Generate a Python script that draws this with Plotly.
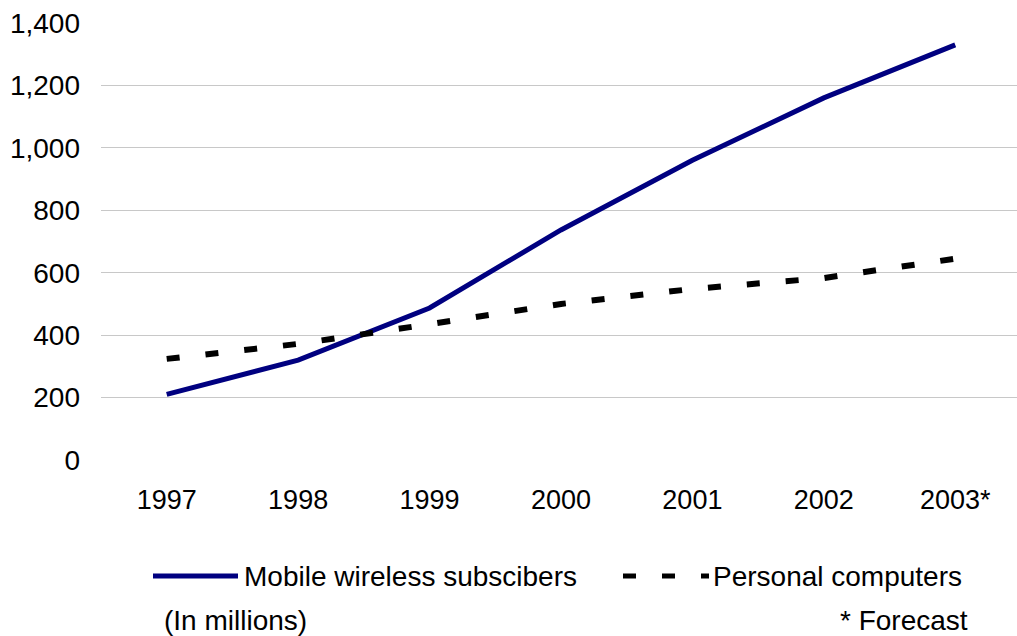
import plotly.graph_objects as go

# Yearly figures, in millions
years = ["1997", "1998", "1999", "2000", "2001", "2002", "2003*"]
mobile_subscribers = [210, 320, 487, 737, 960, 1160, 1330]
personal_computers = [324, 372, 435, 500, 548, 583, 645]

y_ticks = [0, 200, 400, 600, 800, 1000, 1200, 1400]

FONT = "Liberation Sans, Arial, sans-serif"
NAVY = "#000080"

# Plot area in pixels (figure is 1017 x 636)
W, H = 1017, 636
L, R, T, B = 101, 0, 23, 176
pw, ph = W - L - R, H - T - B


def px_x(px):
    return (px - L) / pw


def px_y(py):
    return (H - B - py) / ph


fig = go.Figure()

fig.add_trace(go.Scatter(
    x=years, y=mobile_subscribers, mode="lines",
    name="Mobile wireless subscibers",
    line=dict(color=NAVY, width=5),
))
fig.add_trace(go.Scatter(
    x=years, y=personal_computers, mode="lines",
    name="Personal computers",
    line=dict(color="black", width=6, dash="13px,26px"),
))

# Legend drawn below the axis
legend_y = px_y(576)
fig.add_shape(type="line", xref="paper", yref="paper",
              x0=px_x(153), x1=px_x(238), y0=legend_y, y1=legend_y,
              line=dict(color=NAVY, width=5))
fig.add_shape(type="line", xref="paper", yref="paper",
              x0=px_x(623), x1=px_x(709), y0=legend_y, y1=legend_y,
              line=dict(color="black", width=5, dash="13px,26px"))

annotations = [
    dict(text="Mobile wireless subscibers", x=px_x(242), y=legend_y,
         xanchor="left", yanchor="middle"),
    dict(text="Personal computers", x=px_x(711), y=legend_y,
         xanchor="left", yanchor="middle"),
    dict(text="(In millions)", x=px_x(162), y=px_y(620),
         xanchor="left", yanchor="middle"),
    dict(text="* Forecast", x=px_x(970), y=px_y(620),
         xanchor="right", yanchor="middle"),
]
for a in annotations:
    fig.add_annotation(xref="paper", yref="paper", showarrow=False,
                       font=dict(family=FONT, size=28, color="black"), **a)

fig.update_layout(
    width=W, height=H,
    margin=dict(l=L, r=R, t=T, b=B, pad=0),
    paper_bgcolor="white", plot_bgcolor="white",
    showlegend=False,
    font=dict(family=FONT, size=26, color="black"),
)
fig.update_xaxes(
    type="category", range=[-0.5, 6.47],
    showgrid=False, showline=False, zeroline=False, ticks="",
    tickfont=dict(size=27), ticklabelstandoff=21,
)
fig.update_yaxes(
    range=[0, 1400], tickvals=y_ticks, tickformat=",d",
    showgrid=True, gridcolor="#c8c8c8", gridwidth=1,
    zeroline=False, showline=False, ticks="",
    tickfont=dict(size=28), ticklabelstandoff=20,
)

fig.write_html("out.html")
